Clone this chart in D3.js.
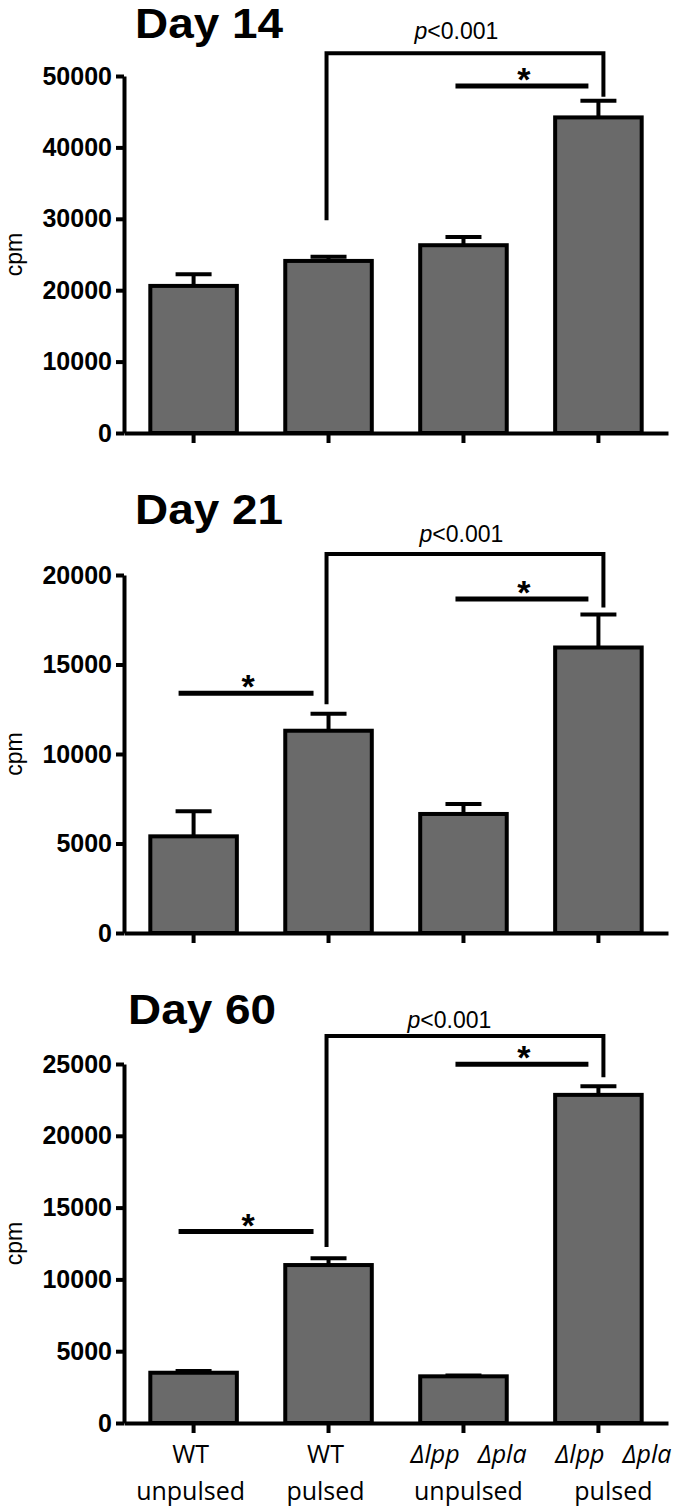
<!DOCTYPE html>
<html>
<head>
<meta charset="utf-8">
<script src="https://cdn.jsdelivr.net/npm/d3@7"></script>
<style>
  html, body { margin: 0; padding: 0; background: #fff; }
  svg { display: block; }
</style>
</head>
<body>
<svg id="chart" width="680" height="1509"></svg>
<script>
// ---------------- DATA ----------------
const categories = ["WT unpulsed", "WT pulsed", "Δlpp Δpla unpulsed", "Δlpp Δpla pulsed"];
const labelLine1 = ["WT", "WT", "Δlpp Δpla", "Δlpp Δpla"];
const labelLine2 = ["unpulsed", "pulsed", "unpulsed", "pulsed"];

const panelTitles = ["Day 14", "Day 21", "Day 60"];

const day14Values = [20600, 24100, 26300, 44200];
const day14Errors = [1650, 600, 1150, 2350];
const day14Ticks  = [0, 10000, 20000, 30000, 40000, 50000];

const day21Values = [5400, 11300, 6650, 15950];
const day21Errors = [1400, 950, 550, 1850];
const day21Ticks  = [0, 5000, 10000, 15000, 20000];

const day60Values = [3500, 11000, 3250, 22850];
const day60Errors = [120, 480, 50, 600];
const day60Ticks  = [0, 5000, 10000, 15000, 20000, 25000];

// significance annotations (values in cpm)
const pLabel = "<0.001";
const day14PBracket = {from: 1, to: 3, top: 53200, leftEnd: 29800, rightEnd: 47100, text: 55200};
const day21PBracket = {from: 1, to: 3, top: 21180, leftEnd: 12780, rightEnd: 18190, text: 21850};
const day60PBracket = {from: 1, to: 3, top: 26950, leftEnd: 12250, rightEnd: 24070, text: 27500};
const day14Stars = [{from: 2, to: 3, level: 48600}];
const day21Stars = [{from: 0, to: 1, level: 13400}, {from: 2, to: 3, level: 18660}];
const day60Stars = [{from: 0, to: 1, level: 13330}, {from: 2, to: 3, level: 24980}];

// ---------------- LAYOUT ----------------
const panels = [
  {title: panelTitles[0], values: day14Values, errors: day14Errors, ticks: day14Ticks,
   pb: day14PBracket, stars: day14Stars, y0: 433, yTop: 76, titleX: 135, titleY: 38, pDx: -7, showLabels: false},
  {title: panelTitles[1], values: day21Values, errors: day21Errors, ticks: day21Ticks,
   pb: day21PBracket, stars: day21Stars, y0: 933, yTop: 575, titleX: 135, titleY: 524, pDx: -2, showLabels: false},
  {title: panelTitles[2], values: day60Values, errors: day60Errors, ticks: day60Ticks,
   pb: day60PBracket, stars: day60Stars, y0: 1423, yTop: 1064, titleX: 128, titleY: 1024, pDx: -14, showLabels: true}
];

const svg = d3.select("#chart");
const axisX0 = 124, axisX1 = 668;
const SANS = "'Liberation Sans', Arial, sans-serif";
const LABEL_FONT = "'Open Sans', 'DejaVu Sans', sans-serif";
const BAR_FILL = "#6a6a6a";
const LW = 4;

const x = d3.scaleBand()
  .domain(categories)
  .range([axisX0, axisX1])
  .paddingInner(0.3587)
  .paddingOuter(0.195);
const cx = i => x(categories[i]) + x.bandwidth() / 2;

panels.forEach((p, pi) => {
  const g = svg.append("g");
  const y = d3.scaleLinear().domain([0, p.ticks[p.ticks.length - 1]]).range([p.y0, p.yTop]);

  // title
  g.append("text")
    .attr("x", p.titleX).attr("y", p.titleY)
    .attr("font-family", SANS).attr("font-weight", "bold").attr("font-size", 42)
    .attr("textLength", 148).attr("lengthAdjust", "spacingAndGlyphs")
    .attr("fill", "#000")
    .text(p.title);

  // y label
  g.append("text")
    .attr("transform", `translate(22,${(p.y0 + p.yTop) / 2}) rotate(-90)`)
    .attr("text-anchor", "middle")
    .attr("font-family", SANS).attr("font-size", 23)
    .attr("fill", "#000")
    .text("cpm");

  // bars
  g.selectAll("rect.bar").data(p.values).join("rect")
    .attr("class", "bar")
    .attr("x", (d, i) => x(categories[i]))
    .attr("y", d => y(d))
    .attr("width", x.bandwidth())
    .attr("height", d => y(0) - y(d))
    .attr("fill", BAR_FILL)
    .attr("stroke", "#000")
    .attr("stroke-width", LW);

  // error bars (upper whisker)
  p.values.forEach((v, i) => {
    const e = p.errors[i];
    g.append("line")
      .attr("x1", cx(i)).attr("x2", cx(i))
      .attr("y1", y(v)).attr("y2", y(v + e))
      .attr("stroke", "#000").attr("stroke-width", LW);
    g.append("line")
      .attr("x1", cx(i) - 18).attr("x2", cx(i) + 18)
      .attr("y1", y(v + e)).attr("y2", y(v + e))
      .attr("stroke", "#000").attr("stroke-width", LW);
  });

  // y axis
  const yAxis = g.append("g")
    .attr("transform", `translate(${axisX0},0)`)
    .call(d3.axisLeft(y).tickValues(p.ticks).tickSize(8).tickSizeOuter(0).tickPadding(4)
      .tickFormat(d3.format("d")));
  yAxis.select(".domain").attr("stroke-width", LW).attr("stroke", "#000");
  yAxis.selectAll(".tick line").attr("stroke-width", LW).attr("stroke", "#000");
  yAxis.selectAll(".tick text")
    .attr("font-family", SANS).attr("font-weight", "bold").attr("font-size", 25)
    .attr("fill", "#000");

  // x axis
  const xAxis = g.append("g")
    .attr("transform", `translate(0,${p.y0})`)
    .call(d3.axisBottom(x).tickSize(10).tickSizeOuter(0).tickFormat(""));
  xAxis.select(".domain").attr("stroke-width", LW).attr("stroke", "#000");
  xAxis.selectAll(".tick line").attr("stroke-width", LW).attr("stroke", "#000");

  // p bracket
  const pb = p.pb;
  const lx = cx(pb.from) - 2, rx = cx(pb.to) + 5;
  g.append("path")
    .attr("d", `M${lx},${y(pb.leftEnd)} V${y(pb.top)} H${rx} V${y(pb.rightEnd)}`)
    .attr("fill", "none").attr("stroke", "#000").attr("stroke-width", LW)
    .attr("stroke-linejoin", "miter");
  const pt = g.append("text")
    .attr("x", (cx(pb.from) + cx(pb.to)) / 2 + p.pDx)
    .attr("y", y(pb.text))
    .attr("text-anchor", "middle")
    .attr("font-family", SANS).attr("font-size", 23).attr("fill", "#000");
  pt.append("tspan").attr("font-style", "italic").text("p");
  pt.append("tspan").text(pLabel);

  // star brackets
  p.stars.forEach(s => {
    const off = s.from === 0 ? [-15, -15] : [-8, -10];
    const x1 = cx(s.from) + off[0], x2 = cx(s.to) + off[1];
    const ly = y(s.level);
    g.append("line")
      .attr("x1", x1).attr("x2", x2).attr("y1", ly).attr("y2", ly)
      .attr("stroke", "#000").attr("stroke-width", 5);
    g.append("text")
      .attr("x", (x1 + x2) / 2 + 2).attr("y", ly + 5)
      .attr("text-anchor", "middle")
      .attr("font-family", SANS).attr("font-weight", "bold").attr("font-size", 34).attr("fill", "#000")
      .text("*");
  });

  // category labels
  if (p.showLabels) {
    const labelDx = [-3, -3, 5, 15];
    categories.forEach((c, i) => {
      const xc = cx(i) + labelDx[i];
      const t1 = g.append("text")
        .attr("x", xc).attr("y", p.y0 + 40)
        .attr("text-anchor", "middle")
        .attr("font-family", LABEL_FONT).attr("font-size", 25).attr("fill", "#000");
      const parts = labelLine1[i].split(" ");
      if (parts.length > 1) {
        t1.attr("font-style", "italic");
        parts.forEach((w, k) => {
          t1.append("tspan").attr("dx", k === 0 ? 0 : 18).text(w);
        });
      } else {
        t1.text(labelLine1[i]);
      }
      g.append("text")
        .attr("x", xc).attr("y", p.y0 + 77)
        .attr("text-anchor", "middle")
        .attr("font-family", LABEL_FONT).attr("font-size", 25).attr("fill", "#000")
        .text(labelLine2[i]);
    });
  }
});
</script>
</body>
</html>
